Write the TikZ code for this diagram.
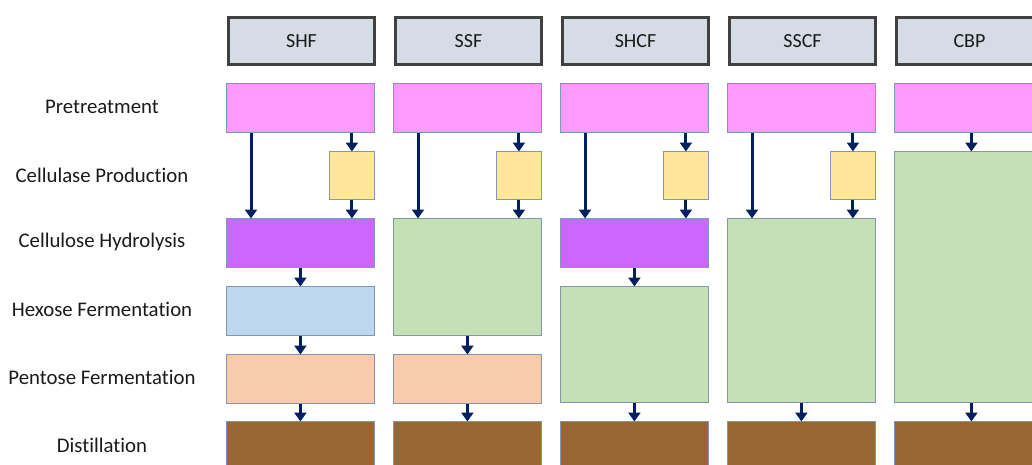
\documentclass[tikz,border=0pt]{standalone}
\usepackage{fontspec}
\setmainfont{Carlito}[Ligatures=CommonOff]
\usetikzlibrary{arrows.meta}
\definecolor{hdrfill}{HTML}{D6DCE5}
\definecolor{hdrline}{HTML}{404040}
\definecolor{boxline}{HTML}{8497B0}
\definecolor{cpre}{HTML}{FF99FF}
\definecolor{cyel}{HTML}{FFE699}
\definecolor{chyd}{HTML}{CC66FF}
\definecolor{chex}{HTML}{BDD7EE}
\definecolor{cpen}{HTML}{F8CBAD}
\definecolor{cdis}{HTML}{996633}
\definecolor{cgrn}{HTML}{C5E0B4}
\definecolor{carr}{HTML}{002060}
\definecolor{ctxt}{HTML}{1A1A1A}
\tikzset{
  hdr/.style={draw=hdrline, line width=3pt, fill=hdrfill, minimum width=146pt, minimum height=47pt, inner sep=0pt, anchor=north west, text=ctxt, font=\fontsize{20pt}{22pt}\selectfont},
  pbox/.style={draw=boxline, line width=0.8pt, fill=#1, minimum width=148pt, minimum height=49pt, inner sep=0pt, anchor=north west},
  ybox/.style={draw=boxline, line width=0.8pt, fill=cyel, minimum width=45pt, minimum height=48pt, inner sep=0pt, anchor=north west},
  rowlab/.style={font=\fontsize{20.8pt}{22pt}\selectfont, text=ctxt, anchor=center},
  arr/.style={draw=carr, line width=3pt, -{Triangle[width=12pt,length=9pt]}, shorten >=-0.5pt}
}
\begin{document}
\begin{tikzpicture}[x=1pt,y=-1pt]
\useasboundingbox (0,0) rectangle (1032,464);
\clip (0,0) rectangle (1032,464);
% row labels
\node[rowlab] (l1) at (102,107) {Pretreatment};
\node[rowlab] (l2) at (102,175) {Cellulase Production};
\node[rowlab] (l3) at (102,242) {Cellulose Hydrolysis};
\node[rowlab] (l4) at (102,309) {Hexose Fermentation};
\node[rowlab] (l5) at (102,377) {Pentose Fermentation};
\node[rowlab] (l6) at (102,445) {Distillation};
% headers
\node[hdr] (h1) at (227,16) {SHF};
\node[hdr] (h2) at (394,16) {SSF};
\node[hdr] (h3) at (561,16) {SHCF};
\node[hdr] (h4) at (728,16) {SSCF};
\node[hdr] (h5) at (895,16) {CBP};
% ---- SHF
\node[pbox=cpre] (pre1) at (226,83) {};
\node[ybox] (yel1) at (329,151) {};
\node[pbox=chyd] (hyd1) at (226,218) {};
\node[pbox=chex] (hex1) at (226,286) {};
\node[pbox=cpen] (pen1) at (226,354) {};
\node[pbox=cdis] (dis1) at (226,421) {};
\draw[arr] ([xshift=25pt]pre1.south west) -- ([xshift=25pt]hyd1.north west);
\draw[arr] (pre1.south -| yel1.north) -- (yel1.north);
\draw[arr] (yel1.south) -- (yel1.south |- hyd1.north);
\draw[arr] (hyd1.south) -- (hex1.north);
\draw[arr] (hex1.south) -- (pen1.north);
\draw[arr] (pen1.south) -- (dis1.north);
% ---- SSF
\node[pbox=cpre] (pre2) at (393,83) {};
\node[ybox] (yel2) at (496,151) {};
\node[pbox=cgrn, minimum height=117pt] (grn2) at (393,218) {};
\node[pbox=cpen] (pen2) at (393,354) {};
\node[pbox=cdis] (dis2) at (393,421) {};
\draw[arr] ([xshift=25pt]pre2.south west) -- ([xshift=25pt]grn2.north west);
\draw[arr] (pre2.south -| yel2.north) -- (yel2.north);
\draw[arr] (yel2.south) -- (yel2.south |- grn2.north);
\draw[arr] (grn2.south) -- (pen2.north);
\draw[arr] (pen2.south) -- (dis2.north);
% ---- SHCF
\node[pbox=cpre] (pre3) at (560,83) {};
\node[ybox] (yel3) at (663,151) {};
\node[pbox=chyd] (hyd3) at (560,218) {};
\node[pbox=cgrn, minimum height=116pt] (grn3) at (560,286) {};
\node[pbox=cdis] (dis3) at (560,421) {};
\draw[arr] ([xshift=25pt]pre3.south west) -- ([xshift=25pt]hyd3.north west);
\draw[arr] (pre3.south -| yel3.north) -- (yel3.north);
\draw[arr] (yel3.south) -- (yel3.south |- hyd3.north);
\draw[arr] (hyd3.south) -- (grn3.north);
\draw[arr] (grn3.south) -- (dis3.north);
% ---- SSCF
\node[pbox=cpre] (pre4) at (727,83) {};
\node[ybox] (yel4) at (830,151) {};
\node[pbox=cgrn, minimum height=184pt] (grn4) at (727,218) {};
\node[pbox=cdis] (dis4) at (727,421) {};
\draw[arr] ([xshift=25pt]pre4.south west) -- ([xshift=25pt]grn4.north west);
\draw[arr] (pre4.south -| yel4.north) -- (yel4.north);
\draw[arr] (yel4.south) -- (yel4.south |- grn4.north);
\draw[arr] (grn4.south) -- (dis4.north);
% ---- CBP
\node[pbox=cpre] (pre5) at (894,83) {};
\node[pbox=cgrn, minimum height=251pt] (grn5) at (894,151) {};
\node[pbox=cdis] (dis5) at (894,421) {};
\draw[arr] ([xshift=3pt]pre5.south) -- ([xshift=3pt]grn5.north);
\draw[arr] ([xshift=3pt]grn5.south) -- ([xshift=3pt]dis5.north);
\end{tikzpicture}
\end{document}
